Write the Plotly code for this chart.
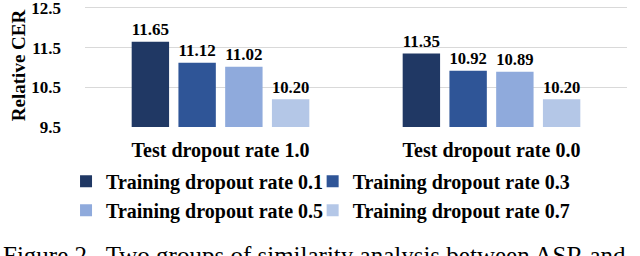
import plotly.graph_objects as go

categories = ["Test dropout rate 1.0", "Test dropout rate 0.0"]
series_names = ["Training dropout rate 0.1", "Training dropout rate 0.3",
                "Training dropout rate 0.5", "Training dropout rate 0.7"]
values = [
    [11.65, 11.35],
    [11.12, 10.92],
    [11.02, 10.89],
    [10.20, 10.20],
]
labels = [["11.65", "11.35"], ["11.12", "10.92"], ["11.02", "10.89"], ["10.20", "10.20"]]
colors = ["#203864", "#2F5597", "#8FAADC", "#B4C7E7"]
legend_ids = ["legend", "legend2", "legend", "legend2"]
y_ticks = [9.5, 10.5, 11.5, 12.5]
caption = "Figure 2.\u00a0\u00a0Two groups of similarity analysis between ASR and"

FONT = "Liberation Serif"

fig = go.Figure()
for name, vals, labs, col, lg in zip(series_names, values, labels, colors, legend_ids):
    fig.add_trace(go.Bar(
        name=name, x=categories, y=vals, text=labs, legend=lg,
        textposition="outside", cliponaxis=False,
        textfont=dict(family=FONT, size=19, color="#000000", weight="bold"),
        marker=dict(color=col, line=dict(width=0)),
    ))

leg_common = dict(orientation="v", yanchor="top", xanchor="left",
                  font=dict(family=FONT, size=20, weight="bold"),
                  itemwidth=30, tracegroupgap=0, bgcolor="rgba(0,0,0,0)")

fig.update_layout(
    width=640, height=256,
    margin=dict(l=85, r=13, t=4, b=129, autoexpand=False),
    paper_bgcolor="white", plot_bgcolor="white",
    barmode="group", bargap=0.31, bargroupgap=0.2,
    font=dict(family=FONT, size=20, color="#000000", weight="bold"),
    showlegend=True,
    legend=dict(x=-0.035, y=-0.282, **leg_common),
    legend2=dict(x=0.42, y=-0.282, **leg_common),
    xaxis=dict(showgrid=False, showline=False, ticks="outside", ticklen=5,
               tickcolor="rgba(0,0,0,0)",
               tickfont=dict(family=FONT, size=20, weight="bold")),
    yaxis=dict(range=[9.5, 12.6], tickvals=y_ticks,
               ticktext=[f"{v:.1f}" for v in y_ticks],
               showgrid=True, gridcolor="#D9D9D9", gridwidth=1,
               zeroline=False, showline=False, ticklabelstandoff=23,
               ticklabeloverflow="allow",
               tickfont=dict(family=FONT, size=17, weight="bold"),
               title=dict(text="Relative CER", standoff=0,
                          font=dict(family=FONT, size=19, weight="bold"))),
    annotations=[dict(text=caption, xref="paper", yref="paper",
                      x=-0.155, y=-0.916, xanchor="left", yanchor="top",
                      showarrow=False,
                      font=dict(family=FONT, size=25, weight="normal", color="#000000"))],
)

fig.write_html("out.html", config={"displayModeBar": False},
               post_script="document.body.style.margin='0';document.body.style.overflow='hidden';")
